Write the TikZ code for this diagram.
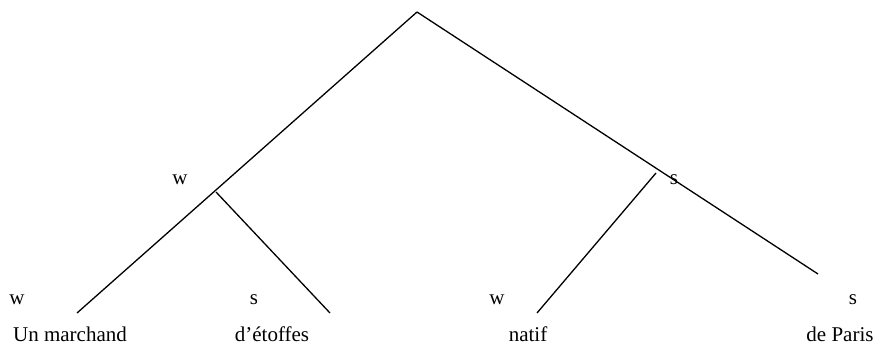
\documentclass[tikz,border=0pt]{standalone}
\usepackage{fontspec}
\setmainfont{Liberation Serif}
\begin{document}
\begin{tikzpicture}[x=1pt,y=-1pt,
  lbl/.style={inner sep=0pt,anchor=base,font=\fontsize{21}{25}\selectfont},
  edge/.style={line width=1.3pt,line cap=butt}]
\useasboundingbox (0,0) rectangle (882,345);
\coordinate (root) at (417,12);
\coordinate (nw) at (216,192);
\coordinate (ns) at (656,173);
\coordinate (l1) at (77,313);
\coordinate (l2) at (330,313);
\coordinate (l3) at (537,313);
\coordinate (l4) at (818,274);
\draw[edge] (root) -- (l1);
\draw[edge] (root) -- (l4);
\draw[edge] (nw) -- (l2);
\draw[edge] (ns) -- (l3);
\node[lbl] (tw) at (180,184) {w};
\node[lbl] (ts) at (674,184) {s};
\node[lbl] (w1) at (17,304) {w};
\node[lbl] (s2) at (254,304) {s};
\node[lbl] (w3) at (497,304) {w};
\node[lbl] (s4) at (853,304) {s};
\node[lbl] (t1) at (70,341) {Un marchand};
\node[lbl] (t2) at (272,341) {d’étoffes};
\node[lbl] (t3) at (528,341) {natif};
\node[lbl] (t4) at (840,341) {de Paris};
\end{tikzpicture}
\end{document}
